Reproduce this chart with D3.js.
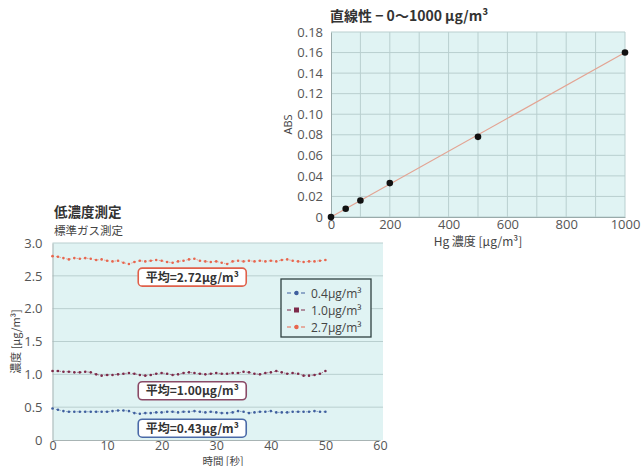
<!DOCTYPE html>
<html>
<head>
<meta charset="utf-8">
<script src="https://cdn.jsdelivr.net/npm/d3@7"></script>
<style>
  body { margin: 0; background: #fff; }
  text { font-family: "Open Sans", "Noto Sans CJK JP", sans-serif; }
  .jp { font-family: "Noto Sans CJK JP", sans-serif; }
  .tick text { fill: #555; }
</style>
</head>
<body>
<div class="chart"></div>
<script>
// Linearity chart (top right)
var linConc = [0, 50, 100, 200, 500, 1000];
var linAbs = [0, 0.008, 0.016, 0.033, 0.078, 0.160];
var fitConc = [0, 1000];
var fitAbs = [0, 0.160];
var absTicks = [0, 0.02, 0.04, 0.06, 0.08, 0.10, 0.12, 0.14, 0.16, 0.18];
var concTicks = [0, 200, 400, 600, 800, 1000];

// Low-concentration chart (bottom left)
var timeSec = d3.range(0, 51);
var seriesNames = ["0.4\u03bcg/m\u00b3", "1.0\u03bcg/m\u00b3", "2.7\u03bcg/m\u00b3"];
var low04 = [0.48, 0.46, 0.44, 0.43, 0.43, 0.43, 0.43, 0.43, 0.43, 0.43, 0.43, 0.44, 0.45, 0.45, 0.44, 0.41, 0.40, 0.41, 0.41, 0.42,
  0.42, 0.43, 0.43, 0.42, 0.43, 0.43, 0.44, 0.43, 0.42, 0.43, 0.42, 0.41, 0.41, 0.42, 0.44, 0.43, 0.41, 0.42, 0.43, 0.43,
  0.44, 0.42, 0.42, 0.42, 0.43, 0.43, 0.43, 0.43, 0.44, 0.43, 0.43];
var low10 = [1.05, 1.05, 1.04, 1.04, 1.03, 1.03, 1.04, 1.03, 1.00, 0.98, 0.99, 0.99, 1.00, 1.01, 1.02, 1.01, 0.99, 0.98, 0.99, 1.01,
  1.02, 1.01, 0.99, 1.00, 1.02, 1.03, 1.02, 1.01, 1.00, 1.01, 1.02, 1.01, 1.01, 1.02, 1.02, 1.04, 1.03, 1.01, 1.00, 1.02,
  1.03, 1.05, 1.03, 1.01, 1.02, 1.01, 0.98, 0.98, 0.99, 1.01, 1.05];
var low27 = [2.80, 2.79, 2.77, 2.75, 2.77, 2.76, 2.77, 2.76, 2.74, 2.75, 2.73, 2.72, 2.73, 2.70, 2.68, 2.71, 2.73, 2.72, 2.73, 2.74,
  2.73, 2.71, 2.70, 2.72, 2.73, 2.75, 2.76, 2.73, 2.72, 2.71, 2.72, 2.70, 2.68, 2.72, 2.73, 2.72, 2.73, 2.72, 2.73, 2.72,
  2.73, 2.72, 2.74, 2.75, 2.73, 2.72, 2.71, 2.72, 2.72, 2.73, 2.74];
var avgLabels = ["平均=0.43\u03bcg/m\u00b3", "平均=1.00\u03bcg/m\u00b3", "平均=2.72\u03bcg/m\u00b3"];
var concTicksLow = [0, 0.5, 1.0, 1.5, 2.0, 2.5, 3.0];
var timeTicks = [0, 10, 20, 30, 40, 50, 60];

var colors = ["#3f5f9e", "#7d2a4a", "#e8664e"];
var boxColors = ["#4a6aa8", "#8a4a66", "#e0604a"];
var bgFill = "#e0f3f3";
var gridColor = "#b9cfcf";

var svg = d3.select(".chart").append("svg")
  .attr("width", 643)
  .attr("height", 466);

// ---------- top chart ----------
var x1 = d3.scaleLinear().domain([0, 1000]).range([331, 625]);
var y1 = d3.scaleLinear().domain([0, 0.18]).range([217, 32]);

var topG = svg.append("g");
topG.append("rect")
  .attr("x", x1(0)).attr("y", y1(0.18))
  .attr("width", x1(1000) - x1(0)).attr("height", y1(0) - y1(0.18))
  .attr("fill", bgFill);

topG.selectAll(".hg").data(absTicks).enter().append("line")
  .attr("x1", x1(0)).attr("x2", x1(1000))
  .attr("y1", d => y1(d)).attr("y2", d => y1(d))
  .attr("stroke", gridColor);
topG.selectAll(".vg").data(d3.range(100, 1001, 100)).enter().append("line")
  .attr("x1", d => x1(d)).attr("x2", d => x1(d))
  .attr("y1", y1(0)).attr("y2", y1(0.18))
  .attr("stroke", gridColor);

var yAxis1 = topG.append("g")
  .attr("transform", `translate(${x1(0)},0)`)
  .call(d3.axisLeft(y1).tickValues(absTicks).tickSize(0).tickPadding(8)
    .tickFormat(d => d === 0 ? "0" : d3.format(".2f")(d)));
var xAxis1 = topG.append("g")
  .attr("transform", `translate(0,${y1(0)})`)
  .call(d3.axisBottom(x1).tickValues(concTicks).tickSize(0).tickPadding(3)
    .tickFormat(d3.format("d")));
[yAxis1, xAxis1].forEach(a => {
  a.select(".domain").attr("stroke", "#9aa");
  a.selectAll("text").attr("font-size", 13);
});

topG.append("line")
  .attr("x1", x1(fitConc[0])).attr("y1", y1(fitAbs[0]))
  .attr("x2", x1(fitConc[1])).attr("y2", y1(fitAbs[1]))
  .attr("stroke", "#e3a493").attr("stroke-width", 1.2);

topG.selectAll(".pt").data(linConc).enter().append("circle")
  .attr("cx", d => x1(d))
  .attr("cy", (d, i) => y1(linAbs[i]))
  .attr("r", 3.3)
  .attr("fill", "#111");

topG.append("text")
  .attr("x", 330).attr("y", 21)
  .attr("font-size", 14).attr("font-weight", "bold").attr("fill", "#333")
  .attr("class", "jp")
  .attr("xml:space", "preserve")
  .text("直線性 \u2212 0\uff5e1000 \u03bcg/m\u00b3");
topG.append("text")
  .attr("transform", `translate(292,${(y1(0) + y1(0.18)) / 2}) rotate(-90)`)
  .attr("text-anchor", "middle")
  .attr("font-size", 11).attr("fill", "#444")
  .text("ABS");
topG.append("text")
  .attr("x", 478).attr("y", 246)
  .attr("text-anchor", "middle")
  .attr("font-size", 12).attr("fill", "#444")
  .attr("class", "jp")
  .text("Hg 濃度 [\u03bcg/m\u00b3]");

// ---------- bottom chart ----------
var x2 = d3.scaleLinear().domain([0, 60]).range([52.5, 380]);
var y2 = d3.scaleLinear().domain([0, 3]).range([440, 243]);

var bot = svg.append("g");
bot.append("rect")
  .attr("x", x2(0)).attr("y", y2(3))
  .attr("width", x2(60) - x2(0) + 3).attr("height", y2(0) - y2(3))
  .attr("fill", bgFill);

bot.selectAll(".hg").data(concTicksLow.slice(1)).enter().append("line")
  .attr("x1", x2(0)).attr("x2", x2(60) + 3)
  .attr("y1", d => y2(d)).attr("y2", d => y2(d))
  .attr("stroke", gridColor);

var yAxis2 = bot.append("g")
  .attr("transform", `translate(${x2(0)},0)`)
  .call(d3.axisLeft(y2).tickValues(concTicksLow).tickSize(0).tickPadding(10)
    .tickFormat(d => d === 0 ? "0" : d3.format(".1f")(d)));
var xAxis2 = bot.append("g")
  .attr("transform", `translate(0,${y2(0)})`)
  .call(d3.axisBottom(x2).tickValues(timeTicks).tickSize(0).tickPadding(1));
yAxis2.selectAll("text").attr("font-size", 13);
xAxis2.selectAll("text").attr("font-size", 12.5);
[yAxis2, xAxis2].forEach(a => a.select(".domain").attr("stroke", "#a8b4b4"));

var allSeries = [low04, low10, low27];
allSeries.forEach(function(vals, k) {
  var line = d3.line().x((d, i) => x2(timeSec[i])).y(d => y2(d));
  bot.append("path")
    .attr("d", line(vals))
    .attr("fill", "none")
    .attr("stroke", colors[k])
    .attr("stroke-width", 0.8)
    .attr("stroke-dasharray", "1.5,2")
    .attr("opacity", 0.7);
  bot.selectAll(".m" + k).data(vals).enter().append("circle")
    .attr("cx", (d, i) => x2(timeSec[i]))
    .attr("cy", d => y2(d))
    .attr("r", 1.3)
    .attr("fill", colors[k]);
});

// average annotation boxes
var boxCenterT = 25.6;
var boxCenterV = [0.18, 0.75, 2.48];
avgLabels.forEach(function(lbl, k) {
  var cx = x2(boxCenterT), cy = y2(boxCenterV[k]);
  bot.append("rect")
    .attr("x", cx - 54).attr("y", cy - 9)
    .attr("width", 108).attr("height", 18)
    .attr("rx", 4)
    .attr("fill", "#fff")
    .attr("stroke", boxColors[k]).attr("stroke-width", 1.6);
  bot.append("text")
    .attr("x", cx).attr("y", cy + 4.5)
    .attr("text-anchor", "middle")
    .attr("font-size", 12).attr("font-weight", "bold").attr("fill", "#333")
    .attr("class", "jp")
    .text(lbl);
});

// legend
var legend = bot.append("g").attr("transform", "translate(281,279)");
legend.append("rect")
  .attr("width", 90).attr("height", 58)
  .attr("fill", bgFill)
  .attr("stroke", "#2f4040").attr("stroke-width", 1.3);
seriesNames.forEach(function(name, k) {
  var ly = 14 + k * 17;
  legend.append("line")
    .attr("x1", 6).attr("x2", 24).attr("y1", ly).attr("y2", ly)
    .attr("stroke", colors[k]).attr("stroke-dasharray", "4,3").attr("stroke-width", 1);
  if (k === 1) {
    legend.append("rect").attr("x", 13).attr("y", ly - 2.5).attr("width", 5).attr("height", 5).attr("fill", colors[k]);
  } else {
    legend.append("circle").attr("cx", 15.5).attr("cy", ly).attr("r", 2.2).attr("fill", colors[k]);
  }
  legend.append("text")
    .attr("x", 30).attr("y", ly + 4.5)
    .attr("font-size", 12).attr("fill", "#444")
    .text(name);
});

bot.append("text")
  .attr("x", 54).attr("y", 217)
  .attr("font-size", 13.5).attr("font-weight", "bold").attr("fill", "#333")
  .attr("class", "jp")
  .text("低濃度測定");
bot.append("text")
  .attr("x", 54).attr("y", 235)
  .attr("font-size", 11.5).attr("fill", "#444")
  .attr("class", "jp")
  .text("標準ガス測定");
bot.append("text")
  .attr("transform", `translate(20,${(y2(0) + y2(3)) / 2}) rotate(-90)`)
  .attr("text-anchor", "middle")
  .attr("font-size", 11).attr("fill", "#444")
  .attr("class", "jp")
  .text("濃度 [\u03bcg/m\u00b3]");
bot.append("text")
  .attr("x", 223).attr("y", 465)
  .attr("text-anchor", "middle")
  .attr("font-size", 10.5).attr("fill", "#444")
  .attr("class", "jp")
  .text("時間 [秒]");
</script>
</body>
</html>
